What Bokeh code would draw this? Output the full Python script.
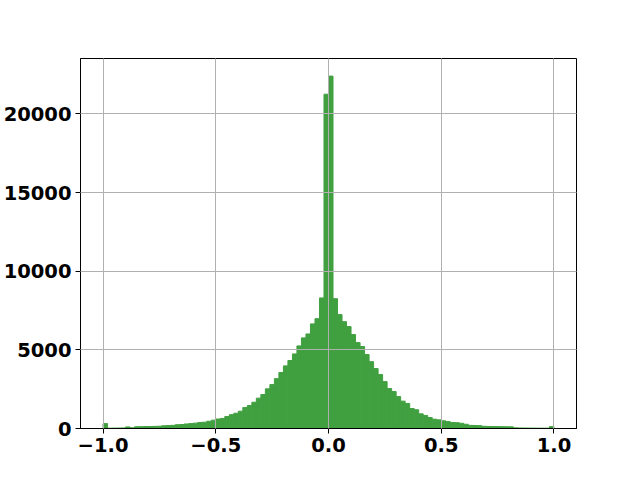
import numpy as np
from bokeh.plotting import figure
from bokeh.models import Range1d, FixedTicker, ColumnDataSource
from bokeh.embed import file_html
from bokeh.resources import INLINE

# histogram: 100 bins from -1 to 1
bin_edges = np.linspace(-1.0, 1.0, 101)
counts = [
    310, 20, 25, 30, 35, 100, 45, 110, 115, 120,
    125, 135, 145, 170, 185, 200, 240, 255, 290, 310,
    340, 380, 400, 460, 530, 600, 640, 760, 880, 970,
    1100, 1330, 1460, 1670, 1930, 2160, 2520, 2790, 3170, 3560,
    3980, 4320, 4740, 5250, 5760, 6010, 6650, 6980, 8300, 21250,
    22400, 8250, 7240, 6790, 6480, 5970, 5460, 5210, 4700, 4250,
    3810, 3430, 2980, 2540, 2350, 2030, 1740, 1590, 1270, 1190,
    930, 830, 700, 590, 550, 490, 440, 380, 370, 330,
    270, 200, 190, 180, 140, 130, 125, 120, 115, 110,
    105, 40, 35, 30, 28, 25, 22, 20, 20, 120,
]
x_ticks = [-1.0, -0.5, 0.0, 0.5, 1.0]
x_tick_labels = ["\u22121.0", "\u22120.5", "0.0", "0.5", "1.0"]
y_ticks = [0, 5000, 10000, 15000, 20000]

src = ColumnDataSource(dict(left=bin_edges[:-1], right=bin_edges[1:], top=counts))

p = figure(width=640, height=480, output_backend="svg", toolbar_location=None,
           x_range=Range1d(-1.1, 1.1), y_range=Range1d(0, max(counts) * 1.05),
           min_border_left=80, min_border_right=64, min_border_top=58, min_border_bottom=52)
p.quad(left="left", right="right", top="top", bottom=0, source=src,
       fill_color="#40a040", fill_alpha=1.0, line_color="#40a040", line_width=1)

p.background_fill_color = "white"
p.border_fill_color = "white"
p.outline_line_color = "black"
p.outline_line_alpha = 1.0
p.outline_line_width = 1

for ax in (p.xaxis[0], p.yaxis[0]):
    ax.major_label_text_font = "DejaVu Sans"
    ax.major_label_text_font_style = "bold"
    ax.major_label_text_font_size = "19.5px"
    ax.major_label_text_color = "black"
    ax.axis_line_color = "black"
    ax.major_tick_line_color = "black"
    ax.major_tick_out = 5
    ax.major_tick_in = 0
    ax.minor_tick_line_color = None
    ax.major_label_standoff = 4

p.xaxis.ticker = FixedTicker(ticks=x_ticks)
p.xaxis.major_label_overrides = {t: l for t, l in zip(x_ticks, x_tick_labels)}
p.yaxis.ticker = FixedTicker(ticks=y_ticks)

for g in (p.xgrid[0], p.ygrid[0]):
    g.grid_line_color = "#b0b0b0"
    g.grid_line_width = 1
    g.level = "overlay"
p.xgrid.ticker = FixedTicker(ticks=x_ticks)
p.ygrid.ticker = FixedTicker(ticks=y_ticks)

open("out.html", "w").write(file_html(p, INLINE))
